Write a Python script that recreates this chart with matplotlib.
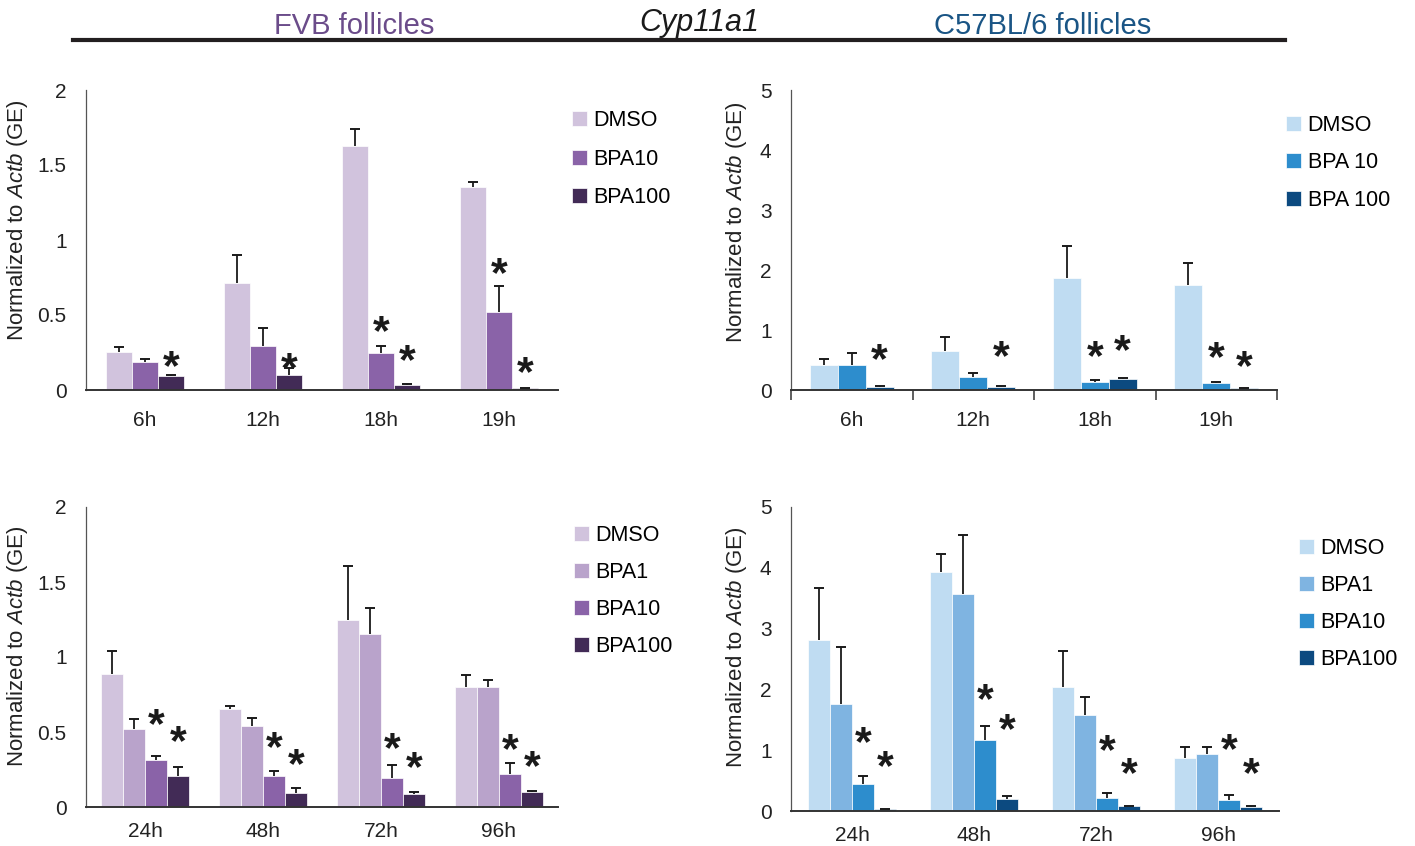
import numpy as np
import matplotlib
matplotlib.use("Agg")
import matplotlib.pyplot as plt

plt.rcParams["font.family"] = ["Liberation Sans", "DejaVu Sans"]
plt.rcParams["mathtext.fontset"] = "custom"
plt.rcParams["mathtext.rm"] = "Liberation Sans"
plt.rcParams["mathtext.it"] = "Liberation Sans:italic"

# ---------------- data ----------------
times_short = ["6h", "12h", "18h", "19h"]
times_long = ["24h", "48h", "72h", "96h"]

# FVB follicles, short culture
fvb_short_groups = ["DMSO", "BPA10", "BPA100"]
fvb_short_mean = [
    [0.255, 0.711, 1.627, 1.351],
    [0.185, 0.296, 0.249, 0.518],
    [0.095, 0.100, 0.033, 0.011],
]
fvb_short_err = [
    [0.034, 0.190, 0.111, 0.033],
    [0.020, 0.114, 0.047, 0.175],
    [0.005, 0.045, 0.007, 0.004],
]
fvb_short_sig = [
    [0, 0, 0, 0],
    [0, 0, 1, 1],
    [1, 1, 1, 1],
]

# C57BL/6 follicles, short culture
b6_short_groups = ["DMSO", "BPA 10", "BPA 100"]
b6_short_mean = [
    [0.417, 0.644, 1.872, 1.750],
    [0.420, 0.211, 0.128, 0.117],
    [0.056, 0.050, 0.183, 0.028],
]
b6_short_err = [
    [0.105, 0.239, 0.534, 0.367],
    [0.202, 0.078, 0.044, 0.019],
    [0.014, 0.010, 0.011, 0.007],
]
b6_short_sig = [
    [0, 0, 0, 0],
    [0, 0, 1, 1],
    [1, 1, 1, 1],
]

# FVB follicles, long culture
fvb_long_groups = ["DMSO", "BPA1", "BPA10", "BPA100"]
fvb_long_mean = [
    [0.887, 0.656, 1.246, 0.803],
    [0.521, 0.541, 1.153, 0.798],
    [0.315, 0.204, 0.195, 0.220],
    [0.204, 0.093, 0.086, 0.097],
]
fvb_long_err = [
    [0.153, 0.016, 0.360, 0.075],
    [0.064, 0.055, 0.175, 0.047],
    [0.026, 0.038, 0.082, 0.073],
    [0.062, 0.031, 0.014, 0.013],
]
fvb_long_sig = [
    [0, 0, 0, 0],
    [0, 0, 0, 0],
    [1, 1, 1, 1],
    [1, 1, 1, 1],
]

# C57BL/6 follicles, long culture
b6_long_groups = ["DMSO", "BPA1", "BPA10", "BPA100"]
b6_long_mean = [
    [2.807, 3.937, 2.046, 0.872],
    [1.766, 3.575, 1.574, 0.937],
    [0.450, 1.163, 0.209, 0.181],
    [0.033, 0.197, 0.082, 0.072],
]
b6_long_err = [
    [0.861, 0.296, 0.586, 0.187],
    [0.931, 0.960, 0.306, 0.122],
    [0.126, 0.230, 0.087, 0.082],
    [0.007, 0.044, 0.008, 0.016],
]
b6_long_sig = [
    [0, 0, 0, 0],
    [0, 0, 0, 0],
    [1, 1, 1, 1],
    [1, 1, 1, 1],
]

# ---------------- styling ----------------
purples3 = ["#d1c3dd", "#8a63a8", "#422b56"]
purples4 = ["#d1c3dd", "#b9a3cb", "#8a63a8", "#422b56"]
blues3 = ["#bfdcf2", "#2d8dcd", "#0c4a80"]
blues4 = ["#bfdcf2", "#7fb4e1", "#2d8dcd", "#0c4a80"]

W, H = 1415, 846
fig = plt.figure(figsize=(W / 100, H / 100), dpi=100)


def px_rect(x0, x1, ytop, ybot):
    return [x0 / W, 1 - ybot / H, (x1 - x0) / W, (ybot - ytop) / H]


# star vertical offsets (pixels above error-bar tip), per series and time point
star_offsets = {
    "tl": [None, [0, 0, 24, 23], [19, 10, 34, 25]],
    "tr": [None, [0, 0, 33, 34], [36, 40, 38, 31]],
    "bl": [None, None, [41, 33, 27, 24], [36, 34, 35, 34]],
    "br": [None, None, [44, 37, 53, 56], [52, 77, 42, 42]],
}

STAR_SIZE = 31
STAR_LIFT = 0.27 * STAR_SIZE * 100 / 72

TICK_FS = 15
LEGEND_FS = 15.5
YLABEL_FS = 16


def panel(rect, cats, groups, means, errs, sigs, colors, ymax, yticks, ytlabels,
          bar_w, offsets, legend_anchor, legend_spacing, ylabel_xy, xpad,
          boundary_ticks=False):
    ax = fig.add_axes(rect)
    n = len(groups)
    x = np.arange(len(cats))
    for i in range(n):
        pos = x + (i - (n - 1) / 2) * bar_w
        m = np.array(means[i])
        e = np.array(errs[i])
        ax.bar(pos, m, width=bar_w, color=colors[i], label=groups[i],
               edgecolor="white", linewidth=0.5, zorder=2)
        ax.vlines(pos, m, m + e, color="#1a1a1a", lw=1.3, zorder=3)
        ax.plot(pos, m + e, ls="none", marker="_", ms=6.5, mew=1.4,
                color="#1a1a1a", zorder=3)
        for j in range(len(cats)):
            if sigs[i][j]:
                ax.annotate("*", xy=(pos[j], m[j] + e[j]),
                            xytext=(0, offsets[i][j] - STAR_LIFT),
                            textcoords="offset pixels", ha="center", va="center",
                            fontsize=STAR_SIZE, fontweight="bold", color="#1a1a1a",
                            zorder=4)
    ax.set_xlim(-0.5, len(cats) - 0.5)
    ax.set_ylim(0, ymax)
    ax.set_yticks(yticks)
    ax.set_yticklabels(ytlabels)
    ax.set_xticks(x)
    ax.set_xticklabels(cats)
    for s in ["top", "right"]:
        ax.spines[s].set_visible(False)
    ax.spines["left"].set_color("#555555")
    ax.spines["left"].set_linewidth(0.9)
    ax.spines["bottom"].set_color("#333333")
    ax.spines["bottom"].set_linewidth(1.4)
    ax.tick_params(axis="y", length=0, pad=14, labelsize=TICK_FS, labelcolor="#222222")
    ax.tick_params(axis="x", length=0, pad=xpad, labelsize=TICK_FS, labelcolor="#222222")
    if boundary_ticks:
        ax.set_xticks(np.arange(len(cats) + 1) - 0.5, minor=True)
        ax.tick_params(axis="x", which="minor", length=7, width=1.1,
                       color="#333333", direction="out")
    ax.set_ylabel("Normalized to $\\mathit{Actb}$ (GE)", fontsize=YLABEL_FS,
                  color="#222222")
    ax.yaxis.set_label_coords(*ylabel_xy)
    ax.legend(loc="upper left", bbox_to_anchor=legend_anchor,
              bbox_transform=fig.transFigure, frameon=False, fontsize=LEGEND_FS,
              handlelength=0.7, handleheight=0.7, handletextpad=0.3,
              labelspacing=legend_spacing, borderpad=0, borderaxespad=0)
    return ax


panel(px_rect(86, 558, 90, 390), times_short, fvb_short_groups, fvb_short_mean,
      fvb_short_err, fvb_short_sig, purples3, 2, [0, 0.5, 1, 1.5, 2],
      ["0", "0.5", "1", "1.5", "2"], 0.22, star_offsets["tl"],
      (572 / W, 1 - 110 / H), 0.82, (-0.118, 0.565), 15)

panel(px_rect(791, 1277, 90, 390), times_short, b6_short_groups, b6_short_mean,
      b6_short_err, b6_short_sig, blues3, 5, [0, 1, 2, 3, 4, 5],
      ["0", "1", "2", "3", "4", "5"], 0.23, star_offsets["tr"],
      (1286 / W, 1 - 115 / H), 0.76, (-0.087, 0.56), 15, boundary_ticks=True)

panel(px_rect(86, 558, 507, 807), times_long, fvb_long_groups, fvb_long_mean,
      fvb_long_err, fvb_long_sig, purples4, 2, [0, 0.5, 1, 1.5, 2],
      ["0", "0.5", "1", "1.5", "2"], 0.186, star_offsets["bl"],
      (574 / W, 1 - 525 / H), 0.74, (-0.118, 0.537), 11)

panel(px_rect(791, 1279, 507, 811), times_long, b6_long_groups, b6_long_mean,
      b6_long_err, b6_long_sig, blues4, 5, [0, 1, 2, 3, 4, 5],
      ["0", "1", "2", "3", "4", "5"], 0.18, star_offsets["br"],
      (1299 / W, 1 - 538 / H), 0.74, (-0.087, 0.54), 11)

# header
fig.text(354 / W, 1 - 34 / H, "FVB follicles", color="#6b4c8a", fontsize=21,
         ha="center", va="baseline")
fig.text(699 / W, 1 - 31 / H, "Cyp11a1", color="#1a1a1a", fontsize=22,
         style="italic", ha="center", va="baseline")
fig.text(1043 / W, 1 - 34 / H, "C57BL/6 follicles", color="#1a5585", fontsize=21,
         ha="center", va="baseline")
fig.add_artist(plt.Line2D([73 / W, 1285 / W], [1 - 40.5 / H, 1 - 40.5 / H],
                          color="#231f20", lw=3.0, transform=fig.transFigure))

fig.savefig("out.png", dpi=100, facecolor="white")
